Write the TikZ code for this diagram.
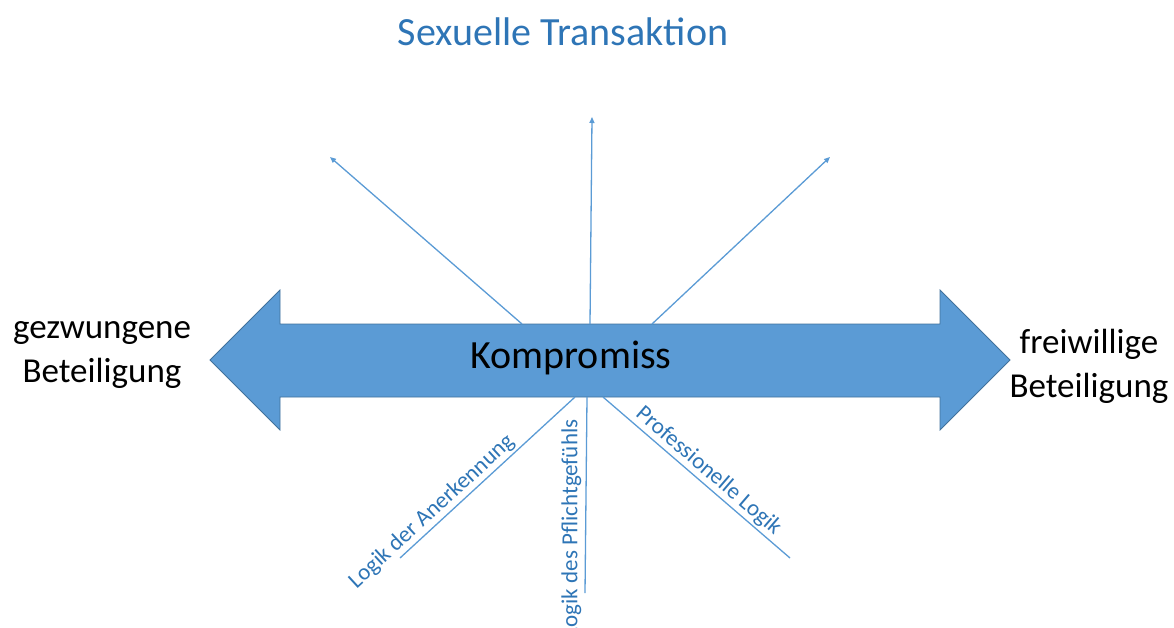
\documentclass[tikz,border=0pt]{standalone}
\usepackage{fontspec}
\setmainfont{Carlito}
\usetikzlibrary{arrows.meta, calc}
\definecolor{cblue}{HTML}{5B9BD5}
\definecolor{cedge}{HTML}{41719C}
\definecolor{ctext}{HTML}{2E75B6}
\tikzset{
  every picture/.style={x=1pt, y=-1pt, line width=1.2pt},
  bigarrow/.style={fill=cblue, draw=cedge, line width=0.8pt},
  ray/.style={draw=cblue, line width=1.3pt},
  tipray/.style={ray, -{Triangle[length=6pt, width=5pt]}},
  side/.style={font=\fontsize{35}{44}\selectfont, align=center},
  logic/.style={font=\fontsize{23}{27}\selectfont, text=ctext, inner sep=2pt},
  title/.style={font=\fontsize{40}{48}\selectfont, text=ctext},
}

\begin{document}
\begin{tikzpicture}
  \useasboundingbox (0,0) rectangle (1174,627);
  \clip (0,0) rectangle (1174,627);
  \node[title] (ttl) at (563,32) {Sexuelle Transaktion};
  % double arrow
  \draw[bigarrow] (210,360) -- (280,290) -- (280,324) -- (940,324) -- (940,290) -- (1010,360)
    -- (940,430) -- (940,397) -- (280,397) -- (280,430) -- cycle;
  \node[font=\fontsize{40}{46}\selectfont] (komp) at (571,358) {Kompromiss};
  \node[side] (left) at (102,355) {gezwungene\\Beteiligung};
  \node[side] (right) at (1089,366) {freiwillige\\Beteiligung};
  % rays up
  \coordinate (a1) at (522,324);
  \coordinate (a2) at (590,324);
  \coordinate (a3) at (652,324);
  \coordinate (u1) at (330,157);
  \coordinate (u2) at (592,117);
  \coordinate (u3) at (830,157);
  \foreach \i in {1,2,3} {\draw[tipray] (a\i) -- (u\i);}
  % rays down
  \coordinate (b1) at (575,397);
  \coordinate (b2) at (587,397);
  \coordinate (b3) at (603,397);
  \coordinate (d1) at (400,558);
  \coordinate (d2) at (585,593);
  \coordinate (d3) at (790,558);
  \draw[ray] (d1) -- (b1) node[logic, sloped, above, pos=0.23] (anerk) {Logik der Anerkennung};
  \draw[ray] (b2) -- (d2);
  \node[logic, rotate=90, anchor=south east] (pflicht) at ($(b2)+(-3,20)$) {Logik des Pflichtgefühls};
  \draw[ray] (b3) -- (d3) node[logic, sloped, above, pos=0.52] (prof) {Professionelle Logik};
\end{tikzpicture}
\end{document}
